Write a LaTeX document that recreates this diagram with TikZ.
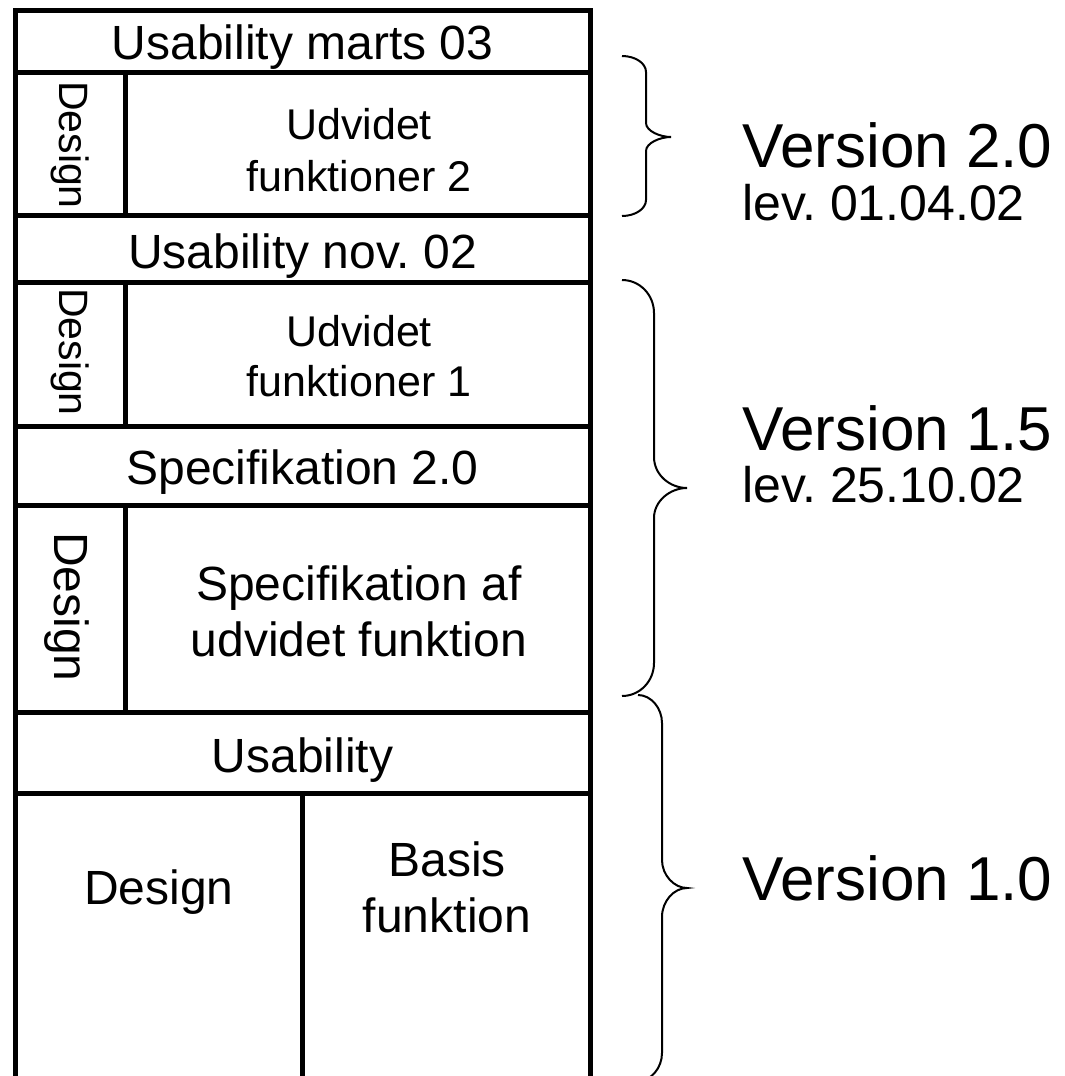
\documentclass[tikz,border=0pt]{standalone}
\usepackage{fontspec}
\setmainfont{Liberation Sans}
\frenchspacing
\tikzset{
  cell/.style={line width=5pt, line join=miter},
  bracepath/.style={line width=2pt},
  txt/.style={inner sep=0pt, anchor=base, font=\fontsize{48}{56}\selectfont},
  smalltxt/.style={inner sep=0pt, anchor=base, font=\fontsize{43}{50}\selectfont},
  vtxt/.style={inner sep=0pt, rotate=-90, font=\fontsize{41}{48}\selectfont},
  vbig/.style={inner sep=0pt, rotate=-90, font=\fontsize{48}{56}\selectfont},
  vertxt/.style={inner sep=0pt, anchor=base west, font=\fontsize{62}{70}\selectfont},
  levtxt/.style={inner sep=0pt, anchor=base west, font=\fontsize{50}{58}\selectfont},
}
\begin{document}
\begin{tikzpicture}[x=1pt,y=-1pt]
\useasboundingbox (0,0) rectangle (1065,1076);
% grid of cells
\draw[cell] (15,1076) -- (15,10) -- (590,10) -- (590,1076);
\foreach \yy in {72,215,282,426,505,712,793}
  \draw[cell] (15,\yy) -- (590,\yy);
\draw[cell] (125,72) -- (125,215);
\draw[cell] (125,282) -- (125,426);
\draw[cell] (125,505) -- (125,712);
\draw[cell] (302,793) -- (302,1076);
% texts in cells
\node[txt] (um) at (302.5,59) {Usability marts 03};
\node[vtxt] (d1) at (70,145) {Design};
\node[smalltxt] (u2a) at (359,139) {Udvidet};
\node[smalltxt] (u2b) at (359,191) {funktioner 2};
\node[txt] (un) at (302.5,268) {Usability nov. 02};
\node[vtxt] (d2) at (70,352) {Design};
\node[smalltxt] (u1a) at (359,346) {Udvidet};
\node[smalltxt] (u1b) at (359,396) {funktioner 1};
\node[txt] (sp) at (302.5,484) {Specifikation 2.0};
\node[vbig] (d3) at (67,607) {Design};
\node[txt] (sa) at (359,600) {Specifikation af};
\node[txt] (sb) at (359,656) {udvidet funktion};
\node[txt] (us) at (302.5,772) {Usability};
\node[txt] (dg) at (159,904) {Design};
\node[txt] (ba) at (447,876) {Basis};
\node[txt] (bb) at (447,932) {funktion};
% braces
\draw[bracepath] (622,56) .. controls (635,56) and (646,63) .. (646,72) -- (646,123)
  .. controls (646,131) and (660,137) .. (671,137)
  .. controls (660,137) and (646,143) .. (646,151) -- (646,200)
  .. controls (646,209) and (635,216) .. (622,216);
\draw[bracepath] (622,280) .. controls (640,280) and (654,295) .. (654,313) -- (654,457)
  .. controls (654,475) and (670,488) .. (687,488)
  .. controls (670,488) and (654,501) .. (654,518) -- (654,663)
  .. controls (654,681) and (640,696) .. (622,696);
\draw[bracepath] (638,695) .. controls (651,695) and (662,708) .. (662,723) -- (662,860)
  .. controls (662,875) and (674,888) .. (687,888)
  .. controls (674,888) and (662,901) .. (662,917) -- (662,1053)
  .. controls (662,1068) and (651,1081) .. (638,1081);
% version labels
\node[vertxt] (v2) at (742,167) {Version 2.0};
\node[levtxt] (l2) at (742,220) {lev. 01.04.02};
\node[vertxt] (v15) at (742,450) {Version 1.5};
\node[levtxt] (l15) at (742,502) {lev. 25.10.02};
\node[vertxt] (v1) at (742,900) {Version 1.0};
\end{tikzpicture}
\end{document}
